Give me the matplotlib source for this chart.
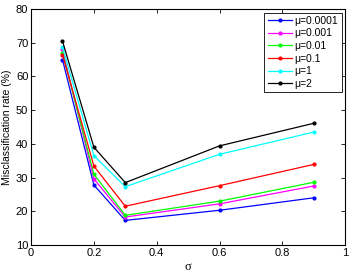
import matplotlib
matplotlib.use("Agg")
import matplotlib.pyplot as plt

sigma = [0.1, 0.2, 0.3, 0.6, 0.9]
labels = ["\u03bc=0.0001", "\u03bc=0.001", "\u03bc=0.01", "\u03bc=0.1", "\u03bc=1", "\u03bc=2"]
colors = ["#0000ff", "#ff00ff", "#00ff00", "#ff0000", "#00ffff", "#000000"]
mu_0001 = [65.0, 27.8, 17.3, 20.3, 24.0]
mu_001 = [68.0, 29.6, 18.3, 22.2, 27.5]
mu_01 = [67.0, 31.0, 18.8, 23.0, 28.6]
mu_1 = [66.5, 33.4, 21.5, 27.6, 33.9]
mu_1b = [68.7, 36.5, 27.3, 36.9, 43.5]
mu_2 = [70.5, 39.0, 28.5, 39.4, 46.1]
series = [mu_0001, mu_001, mu_01, mu_1, mu_1b, mu_2]

plt.rcParams['font.family'] = ['Liberation Sans', 'DejaVu Sans']
fig = plt.figure(figsize=(3.49, 2.73), dpi=100)
ax = fig.add_axes([0.089, 0.1026, 0.9, 0.8644])
for s, c, l in zip(series, colors, labels):
    ax.plot(sigma, s, color=c, marker='.', markersize=4, linewidth=0.9, label=l)
ax.set_xlim(0, 1)
ax.set_ylim(10, 80)
ax.set_xticks([0, 0.2, 0.4, 0.6, 0.8, 1])
ax.set_xticklabels(["0", "0.2", "0.4", "0.6", "0.8", "1"])
ax.set_yticks([10, 20, 30, 40, 50, 60, 70, 80])
ax.tick_params(direction='in', top=True, right=True, labelsize=8, length=3, width=0.6, pad=2)
for sp in ax.spines.values():
    sp.set_linewidth(0.8)
ax.set_xlabel("\u03c3", family=['Liberation Serif'], fontsize=9, labelpad=2)
ax.set_ylabel("Misclassification rate (%)", fontsize=7.5, labelpad=3)
leg = ax.legend(loc='upper right', fontsize=7.5, frameon=True, fancybox=False,
                edgecolor='black', framealpha=1, borderaxespad=0.35,
                handlelength=2.3, handletextpad=0.3, labelspacing=0.25, borderpad=0.3)
leg.get_frame().set_linewidth(0.6)
fig.savefig("out.png", dpi=100)
